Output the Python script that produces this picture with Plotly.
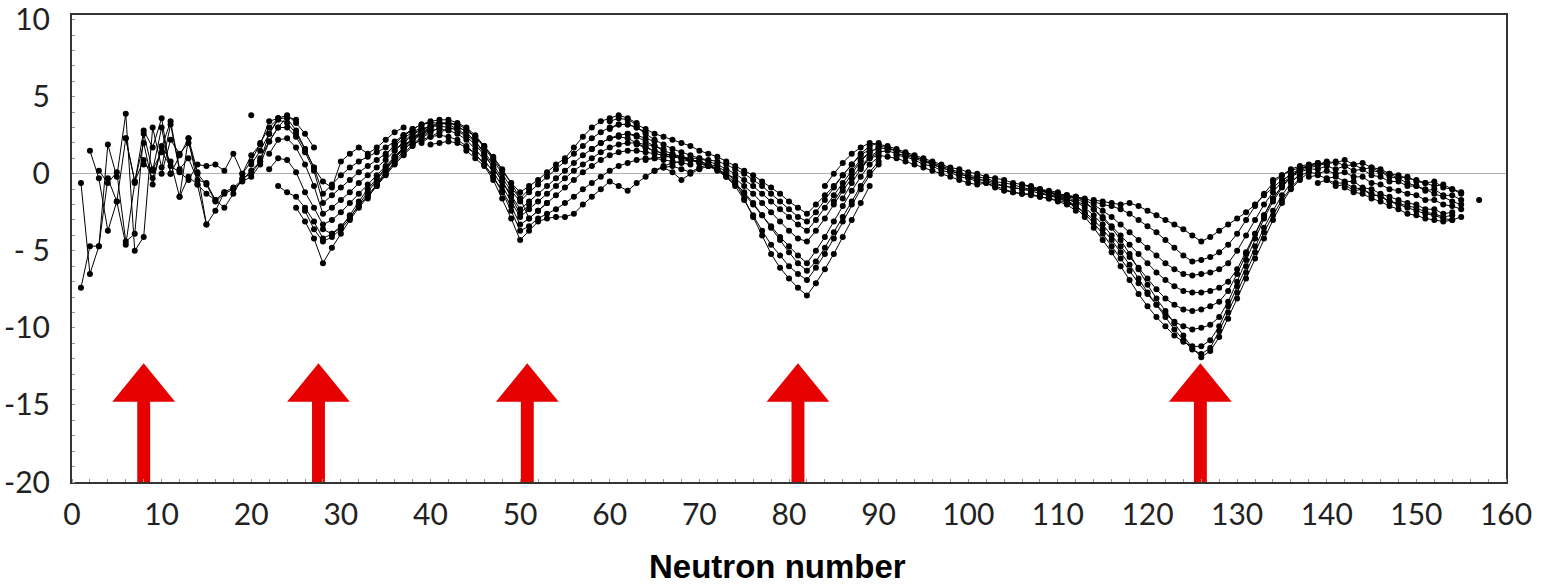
import plotly.graph_objects as go

# Mass residuals (MeV) along isotopic chains: (first neutron number, values at consecutive N)
a1 = (1, [-7.4, -4.7, -4.7, -0.3, -1.8, -4.6, -0.6, 2.8, 1.7, 3.6, 0.0])
a2 = (1, [-0.6, -6.5, -4.7, 1.9, -0.2, 3.9, -5.0, -4.1, 3.0, 0.4, 3.2, 0.2])
a3 = (2, [1.5, -0.3, -3.7, -1.8, 2.3, -0.5, 2.0, -0.7, 1.8, 0.8, -1.5, 2.3, -0.7, -3.3])
a4 = (3, [0.2, -0.6, 0.1, -4.4, -3.9, 2.6, 0.2, 3.0, 0.0, 1.2, 2.3, 0.1, -3.3, -2.4, -1.2])
a5 = (6, [2.3, -0.5, 0.9, -0.3, 1.7, 3.4, 0.3, 1.0, -0.4, -0.6, -1.7, -2.2, -1.3, -0.3, 0.0, 0.8])
a6 = (8, [0.6, 0.3, 1.4, 0.5, 0.1, -0.4, 0.6, 0.5, 0.6, 0.2, 1.3, 0.0, 1.2, 1.9, 3.4, 3.6])
a7 = (10, [0.0, 2.2, 1.3, 2.0, 0.0, -0.7, -1.8, -1.3, -1.0, -0.5, -0.2, 0.6, 2.1, 3.0, 3.7, 3.5])
a8 = (12, [-1.5, -0.2, -0.7, -1.3, -1.7, -1.2, -0.9, -0.4, 0.2, 0.8, 2.6, 3.6, 3.8, 3.3, 2.6, 1.7])
a9 = (20, [3.8])

f1 = (19, [0.0, 0.8, 2.0, 3.0, 3.6, 3.6, 2.8, 1.6, 0.4, -0.5, -0.9, 0.8, 1.3, 1.7, 1.3, 1.7, 2.2, 2.7, 3.0])
f2 = (20, [0.6, 1.5, 2.6, 3.5, 3.3, 2.6, 1.6, 0.4, -1.3, -0.7, -0.1, 0.4, 0.8, 1.1, 1.4, 1.7, 2.1, 2.5, 2.8])
f3 = (21, [1.0, 2.1, 3.0, 3.0, 2.4, 1.4, 0.2, -1.9, -1.4, -0.9, -0.4, 0.1, 0.5, 0.9, 1.3, 1.8, 2.3, 2.7, 3.0])
f4 = (22, [1.3, 2.2, 2.3, 1.7, 0.6, -0.8, -2.6, -2.2, -1.7, -1.2, -0.6, -0.1, 0.4, 0.9, 1.5, 2.0, 2.5, 2.9])
f5 = (22, [0.3, 1.0, 0.9, 0.1, -1.2, -2.2, -3.3, -3.0, -2.5, -1.9, -1.3, -0.7, -0.1, 0.5, 1.1, 1.7, 2.3, 2.7, 3.0])
f6 = (23, [-0.8, -1.2, -1.5, -2.2, -3.1, -4.2, -3.9, -3.4, -2.8, -2.1, -1.4, -0.7, 0.0, 0.7, 1.3, 1.9, 2.4, 2.8])
f7 = (25, [-2.2, -3.1, -4.2, -5.8, -4.8, -3.9, -3.0, -2.2, -1.5, -0.8, -0.1, 0.6, 1.2, 1.8, 2.3, 2.7, 3.0])
f8 = (26, [-2.4, -3.6, -4.4, -4.1, -3.6, -2.9, -2.0, -1.2, -0.4, 0.3, 1.0, 1.6, 2.2, 2.6, 2.9])
f9 = (28, [-3.6, -3.9, -3.5, -2.7, -1.8, -1.0, -0.3, 0.4, 1.1, 1.7, 2.3, 2.7])

b1 = (36, [1.9, 2.5, 2.9, 3.2, 3.4, 3.5, 3.5, 3.3, 3.0, 2.5, 1.8, 1.0, 0.2, -0.6, -1.2, -0.8, -0.4, 0.1,
           0.6, 1.0, 1.7, 2.4, 3.0, 3.4, 3.6, 3.8, 3.6, 3.3])
b2 = (35, [1.2, 1.9, 2.5, 2.9, 3.2, 3.3, 3.3, 3.2, 2.9, 2.5, 2.1, 1.4, 0.6, -0.3, -1.1, -1.8, -1.2, -0.7,
           -0.2, 0.3, 0.8, 1.3, 1.8, 2.3, 2.7, 3.0, 3.2, 3.2, 3.0, 2.7])
b3 = (36, [1.5, 2.1, 2.6, 2.9, 3.1, 3.1, 3.0, 2.8, 2.4, 1.9, 1.2, 0.4, -0.5, -1.4, -2.3, -1.8, -1.3, -0.8,
           -0.3, 0.2, 0.7, 1.2, 1.6, 2.0, 2.3, 2.5, 2.6, 2.5, 2.3, 2.1])
b4 = (37, [1.8, 2.3, 2.6, 2.8, 2.9, 2.8, 2.6, 2.2, 1.6, 0.9, 0.1, -0.8, -1.8, -2.8, -2.3, -1.8, -1.3, -0.8,
           -0.3, 0.2, 0.6, 1.0, 1.4, 1.7, 1.9, 2.0, 2.0, 1.9, 1.8, 1.6])
b5 = (38, [1.9, 2.2, 2.4, 2.5, 2.4, 2.2, 1.8, 1.3, 0.6, -0.2, -1.1, -2.1, -3.3, -2.9, -2.4, -1.9, -1.4, -0.9,
           -0.4, 0.1, 0.5, 0.9, 1.2, 1.4, 1.5, 1.5, 1.4, 1.3, 1.2, 1.1])
b6 = (40, [1.9, 2.0, 2.1, 2.0, 1.7, 1.3, 0.6, -0.2, -1.2, -2.4, -3.7, -3.4, -2.9, -2.6, -2.3, -1.9, -1.5, -1.0,
           -0.6, -0.2, 0.2, 0.5, 0.7, 0.9, 1.0, 1.0, 0.9, 0.8, 0.7, 0.6])
b7 = (44, [1.5, 1.0, 0.5, -0.4, -1.6, -2.9, -4.3, -3.7, -3.1, -2.9, -2.8, -2.8, -2.6, -2.0, -1.5, -1.0, -0.5,
           -0.8, -1.1, -0.6, -0.2, 0.2, 0.4, 0.1, -0.4, 0.0, 0.3, 0.5])
b8 = (33, [-1.6, -0.7, 0.2, 1.0, 1.7, 2.3, 2.8, 3.1, 3.3, 3.3, 3.2, 2.9, 2.4, 1.7, 0.9, 0.0, -0.9, -1.6, -1.0])
b9 = (34, [-0.8, 0.0, 0.8, 1.5, 2.1, 2.6, 3.0, 3.2, 3.3, 3.1, 2.7, 2.1, 1.3, 0.4, -0.5, -1.5, -2.6, -2.0])
b10 = (39, [2.0, 2.4, 2.7, 2.9, 3.0, 2.8, 2.4, 1.8, 1.1, 0.3, -0.6, -1.6, -2.9, -2.4, -1.9])

c1 = (60, [3.4, 3.6, 3.5, 3.2, 2.9, 2.6, 2.4, 2.2, 2.0, 1.8, 1.5, 1.3, 1.1, 0.8, 0.5, 0.2, -0.1, -0.5, -0.9,
           -1.3, -1.8, -2.2, -2.6, -2.0, -1.4, -0.8, -0.1, 0.6, 1.3, 1.8, 2.0])
c2 = (60, [2.9, 3.2, 3.2, 3.0, 2.6, 2.2, 1.9, 1.6, 1.4, 1.2, 1.0, 0.8, 0.6, 0.3, 0.0, -0.4, -0.8, -1.3, -1.8,
           -2.3, -2.8, -3.3, -3.7, -3.0, -2.2, -1.4, -0.6, 0.2, 0.9, 1.4, 1.7])
c3 = (62, [2.6, 2.4, 2.1, 1.8, 1.5, 1.3, 1.1, 0.9, 0.7, 0.5, 0.3, 0.0, -0.3, -0.8, -1.3, -1.9, -2.5, -3.1,
           -3.7, -4.2, -4.4, -3.7, -2.9, -2.0, -1.1, -0.3, 0.5, 1.1, 1.5])
c4 = (63, [1.9, 1.7, 1.5, 1.3, 1.2, 1.0, 0.9, 0.7, 0.5, 0.2, -0.2, -0.7, -1.3, -2.0, -2.7, -3.4, -4.1, -4.7,
           -5.3, -5.8, -5.0, -4.1, -3.1, -2.1, -1.1, -0.2, 0.6, 1.1])
c5 = (64, [0.9, 1.0, 1.1, 1.1, 1.0, 0.9, 0.8, 0.6, 0.3, -0.1, -0.6, -1.2, -1.9, -2.7, -3.5, -4.3, -5.1, -5.8,
           -6.3, -5.7, -4.8, -3.8, -2.8, -1.8, -0.8, 0.1, 0.8])
c6 = (65, [0.2, 0.5, 0.7, 0.8, 0.9, 0.8, 0.6, 0.3, -0.2, -0.8, -1.7, -2.7, -3.7, -4.6, -5.3, -6.0, -6.5, -6.9,
           -6.1, -5.2, -4.2, -3.1, -2.0, -1.0, -0.1, 0.6])
c7 = (66, [0.4, 0.5, 0.3, 0.1, 0.4, 0.6, 0.5, 0.1, -0.5, -1.6, -2.8, -4.0, -5.2, -6.1, -6.8, -7.4, -7.9, -7.1,
           -6.2, -5.2, -4.1, -3.0, -1.9, -0.8])
c8 = (58, [1.6, 2.0, 2.3, 2.4, 2.3, 2.0, 1.7, 1.5, 1.3, 1.2, 1.1, 1.0, 1.0, 0.9, 0.8, 0.6, 0.3, 0.0, -0.4,
           -0.8, -1.3, -1.8, -2.3, -2.8, -3.1, -2.5, -1.7, -0.9, -0.1, 0.6, 1.2, 1.6])

d1 = (84, [-0.8, 0.0, 0.7, 1.3, 1.7, 2.0, 1.9, 1.8, 1.6, 1.4, 1.2, 1.0, 0.8, 0.6, 0.4, 0.3, 0.1, 0.0, -0.2,
           -0.3, -0.4, -0.6, -0.7, -0.8, -1.0, -1.1, -1.2])
d2 = (85, [-1.8, -0.9, 0.0, 0.8, 1.4, 1.7, 1.6, 1.5, 1.3, 1.1, 0.9, 0.7, 0.5, 0.3, 0.1, -0.1, -0.2, -0.3,
           -0.5, -0.6, -0.7, -0.9, -1.0, -1.1, -1.2, -1.4, -1.5, -1.6])
d3 = (86, [-1.6, -0.6, 0.3, 1.0, 1.4, 1.5, 1.3, 1.2, 1.0, 0.8, 0.6, 0.4, 0.2, 0.0, -0.2, -0.4, -0.4, -0.6,
           -0.8, -0.9, -1.0, -1.1, -1.3, -1.4, -1.5, -1.7, -1.8, -2.0])
d4 = (88, [0.4, 1.0, 1.2, 1.1, 1.0, 0.8, 0.6, 0.4, 0.2, 0.0, -0.2, -0.4, -0.6, -0.7, -0.6, -0.9, -1.1, -1.2,
           -1.3, -1.3, -1.5, -1.6, -1.7, -1.9, -2.1])
d5 = (90, [1.8, 1.7, 1.5, 1.3, 1.1, 0.9, 0.6, 0.4, 0.2, 0.0, -0.2, -0.3, -0.5, -0.7, -0.8, -0.9, -1.0, -1.1,
           -1.1, -1.2, -1.4, -1.6, -1.9])
d6 = (92, [1.2, 1.1, 0.9, 0.6, 0.5, 0.2, 0.1, -0.2, -0.3, -0.5, -0.6, -0.8, -1.0, -1.2, -1.3, -1.4, -1.5,
           -1.6, -1.8, -2.0, -2.4])

e1 = (114, [-1.7, -1.8, -1.9, -2.0, -1.9, -2.1, -2.4, -2.7, -3.0, -3.3, -3.6, -4.0, -4.4, -4.1, -3.7, -3.3,
            -2.9, -2.5, -2.0, -1.4, -0.9, -0.4, -0.1, 0.2, 0.4, 0.5, 0.7])
e2 = (112, [-1.5, -1.6, -1.8, -2.0, -2.1, -2.3, -2.6, -3.0, -3.4, -3.8, -4.3, -4.8, -5.3, -5.7, -5.6, -5.4,
            -5.1, -4.6, -3.9, -3.0, -2.1, -1.3, -0.6, -0.1, 0.3, 0.5, 0.6, 0.7])
e3 = (111, [-1.4, -1.5, -1.7, -2.0, -2.4, -2.8, -3.3, -3.8, -4.3, -4.8, -5.3, -5.8, -6.2, -6.5, -6.6, -6.5,
            -6.4, -6.2, -5.8, -5.0, -4.0, -3.0, -2.0, -1.2, -0.5, 0.0, 0.3, 0.5])
e4 = (110, [-1.3, -1.4, -1.6, -1.9, -2.3, -2.8, -3.4, -4.0, -4.6, -5.2, -5.8, -6.4, -6.9, -7.3, -7.6, -7.7,
            -7.7, -7.6, -7.4, -7.0, -6.2, -5.1, -3.9, -2.7, -1.6, -0.8, -0.2, 0.3, 0.5])
e5 = (109, [-1.2, -1.3, -1.5, -1.8, -2.2, -2.7, -3.3, -4.0, -4.7, -5.4, -6.1, -6.8, -7.5, -8.1, -8.5, -8.8,
            -8.9, -8.8, -8.6, -8.3, -7.6, -6.5, -5.2, -3.9, -2.7, -1.6, -0.8, -0.2, 0.3])
e6 = (108, [-1.0, -1.2, -1.4, -1.7, -2.1, -2.6, -3.2, -3.9, -4.7, -5.5, -6.3, -7.1, -7.8, -8.5, -9.1, -9.6,
            -9.9, -10.1, -10.0, -9.8, -9.3, -8.3, -7.0, -5.6, -4.2, -2.9, -1.8, -0.9, -0.2, 0.3])
e7 = (107, [-0.9, -1.1, -1.3, -1.5, -1.8, -2.2, -2.8, -3.5, -4.3, -5.1, -6.0, -6.9, -7.8, -8.6, -9.3, -9.9,
            -10.5, -10.9, -11.2, -11.2, -10.8, -9.9, -8.6, -7.3, -6.0, -4.7, -3.5, -2.4, -1.4, -0.6, 0.0])
e8 = (106, [-0.7, -0.9, -1.0, -1.2, -1.3, -1.4, -1.5, -1.8, -2.3, -2.9, -3.5, -4.3, -5.2, -6.2, -7.2, -8.1,
            -8.9, -9.7, -10.5, -11.3, -11.9, -11.5, -10.6, -9.4, -8.1, -6.8, -5.5, -4.2, -3.0, -1.9, -1.0,
            -0.4, 0.1])
e9 = (108, [-1.2, -1.4, -1.6, -1.8, -2.1, -2.5, -3.0, -3.6, -4.3, -5.1, -5.9, -6.8, -7.7, -8.5, -9.3, -10.1,
            -10.8, -11.4, -11.7, -11.3, -10.2, -9.0, -7.7, -6.4, -5.1, -3.8, -2.7, -1.7, -0.9, -0.3])

g1 = (134, [-0.4, -0.1, 0.2, 0.4, 0.5, 0.6, 0.8, 0.7, 0.9, 0.6, 0.7, 0.4, 0.3, 0.0, -0.1, -0.3, -0.4, -0.6,
            -0.5, -0.9, -1.0, -1.3])
g2 = (135, [-0.6, -0.2, 0.1, 0.3, 0.3, 0.5, 0.3, 0.5, 0.2, 0.3, -0.1, -0.2, -0.5, -0.5, -0.8, -0.8, -1.1,
            -1.0, -1.4, -1.4, -1.7])
g3 = (136, [-0.5, -0.1, 0.1, 0.0, 0.2, 0.0, 0.1, -0.2, -0.2, -0.6, -0.7, -1.0, -1.1, -1.3, -1.4, -1.7, -1.7,
            -2.0, -2.1, -2.3])
g4 = (138, [-0.2, -0.1, -0.3, -0.2, -0.5, -0.5, -0.9, -1.0, -1.3, -1.5, -1.7, -1.9, -2.0, -2.3, -2.3, -2.6,
            -2.5])
g5 = (140, [-0.4, -0.6, -0.6, -0.9, -1.0, -1.3, -1.5, -1.8, -2.0, -2.2, -2.4, -2.6, -2.7, -2.9, -3.0, -2.8])
g6 = (142, [-0.9, -1.2, -1.3, -1.6, -1.8, -2.1, -2.3, -2.6, -2.7, -2.9, -3.0, -3.1, -3.0])
g7 = (145, [0.2, 0.1, -0.2, -0.3, -0.6, -0.8, -1.0, -1.3, -1.5, -1.8, -2.0])
g8 = (157, [-1.7])
g9 = (137, [0.3, 0.5, 0.7, 0.6, 0.8, 0.5, 0.6, 0.3, 0.4, 0.1, 0.0, -0.3, -0.2, -0.5, -0.6, -0.8, -0.7,
            -1.0, -1.2])
g10 = (139, [-0.6, -0.4, -0.8, -0.7, -1.1, -1.0, -1.4, -1.4, -1.8, -1.9, -2.1, -2.2, -2.5, -2.6, -2.8, -2.7])

chains = [a1, a2, a3, a4, a5, a6, a7, a8, a9,
          f1, f2, f3, f4, f5, f6, f7, f8, f9,
          b1, b2, b3, b4, b5, b6, b7, b8, b9, b10,
          c1, c2, c3, c4, c5, c6, c7, c8,
          d1, d2, d3, d4, d5, d6,
          e1, e2, e3, e4, e5, e6, e7, e8, e9,
          g1, g2, g3, g4, g5, g6, g7, g8, g9, g10]

# Magic neutron numbers marked by arrows
arrow_n = [8.0, 27.5, 50.8, 81.0, 125.9]

x_ticks = [0, 10, 20, 30, 40, 50, 60, 70, 80, 90, 100, 110, 120, 130, 140, 150, 160]
y_ticks = [-20, -15, -10, -5, 0, 5, 10]
y_tick_text = ["-20", "-15", "-10", "- 5", "0", "5", "10"]

# arrow geometry (data units)
TIP_Y = -12.3
HEAD_BASE_Y = -14.8
HEAD_HALF = 3.5
SHAFT_HALF = 0.72
AXIS_BOTTOM = -20

fig = go.Figure()

for n0, vals in chains:
    ns = list(range(n0, n0 + len(vals)))
    fig.add_trace(go.Scatter(
        x=ns, y=vals, mode="lines+markers",
        line=dict(color="black", width=1),
        marker=dict(color="black", size=6),
        showlegend=False, hoverinfo="skip",
    ))

for c in arrow_n:
    xs = [c - SHAFT_HALF, c - SHAFT_HALF, c - HEAD_HALF, c, c + HEAD_HALF,
          c + SHAFT_HALF, c + SHAFT_HALF, c - SHAFT_HALF]
    ys = [AXIS_BOTTOM, HEAD_BASE_Y, HEAD_BASE_Y, TIP_Y, HEAD_BASE_Y,
          HEAD_BASE_Y, AXIS_BOTTOM, AXIS_BOTTOM]
    fig.add_trace(go.Scatter(
        x=xs, y=ys, mode="lines", fill="toself",
        fillcolor="#e60000", line=dict(color="#e60000", width=0),
        showlegend=False, hoverinfo="skip",
    ))

tick_font = dict(family="Lato, 'Open Sans', sans-serif", size=30, color="#222222")

fig.update_xaxes(
    range=[0, 160], tickvals=x_ticks, ticktext=[str(v) for v in x_ticks],
    showgrid=False, zeroline=False, automargin=False,
    showline=True, linecolor="#333333", linewidth=2, mirror=True,
    ticks="outside", ticklen=5, tickcolor="rgba(0,0,0,0)",
    minor=dict(ticks="inside", dtick=2, ticklen=3, tickcolor="#999999"),
    tickfont=tick_font, ticklabeloverflow="allow",
)
fig.update_yaxes(
    range=[-20, 10.3], tickvals=y_ticks, ticktext=y_tick_text,
    showgrid=False, automargin=False,
    zeroline=True, zerolinecolor="#b0b0b0", zerolinewidth=1,
    showline=True, linecolor="#333333", linewidth=2, mirror=True,
    ticks="outside", ticklen=14, tickcolor="rgba(0,0,0,0)",
    minor=dict(ticks="inside", dtick=1, ticklen=3, tickcolor="#999999"),
    tickfont=tick_font, ticklabeloverflow="allow",
)

fig.add_annotation(
    text="<b>Neutron number</b>", xref="paper", yref="paper",
    x=0.492, y=-0.18, xanchor="center", yanchor="middle", showarrow=False,
    font=dict(family="'Liberation Sans', Arial, sans-serif", size=33, color="black"),
)

fig.update_layout(
    width=1542, height=588, autosize=False,
    margin=dict(l=72, r=36, t=15, b=106),
    paper_bgcolor="white", plot_bgcolor="white",
)

fig.write_html("out.html", config={"displayModeBar": False})
